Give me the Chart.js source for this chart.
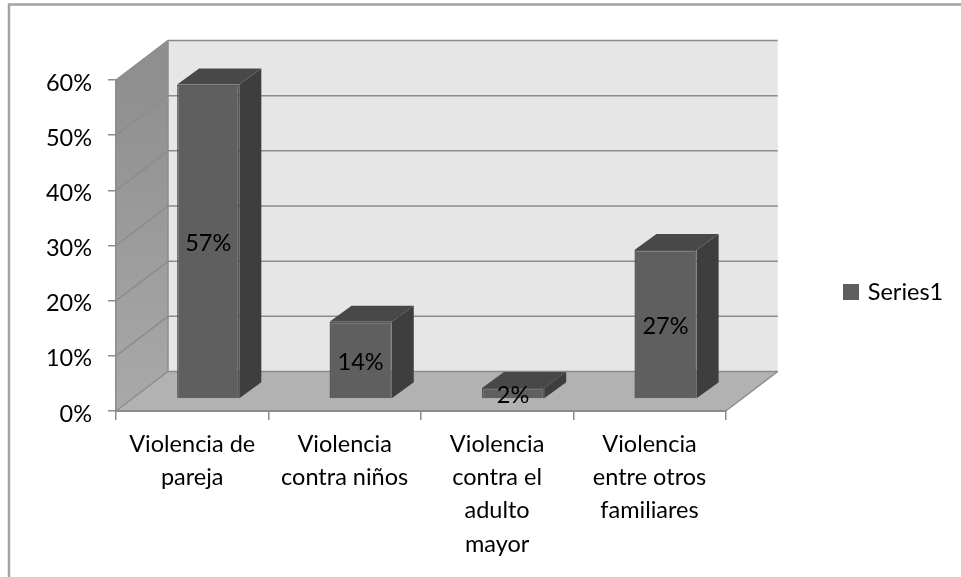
<!DOCTYPE html>
<html><head><meta charset="utf-8">
<style>html,body{margin:0;padding:0;background:#fff}canvas{display:block}</style>
<script src="https://cdn.jsdelivr.net/npm/chart.js@4"></script></head>
<body><canvas id="c" width="961" height="577"></canvas>
<script>
const categories = [["Violencia de","pareja"],["Violencia","contra niños"],["Violencia","contra el","adulto","mayor"],["Violencia","entre otros","familiares"]];
const seriesName = "Series1";
const values = [57,14,2,27];
const yMax = 60, yStep = 10;

const FONT = "Lato, Carlito, sans-serif";
const FS = 23.5;
const DEPTH = {x:52, y:-39.5};      // floor / wall depth
const SHIFT = {x:16, y:-12};        // bars sit inside the depth
const BAR_D = {x:22, y:-16};        // bar depth
const LINE = '#8c8c8c';

const scene3d = {
  id:'scene3d',
  afterLayout(chart){
    const l = chart.legend;
    const dx = 840 - l.left, dy = 292 - (l.top+l.bottom)/2;
    l.left+=dx; l.right+=dx; l.top+=dy; l.bottom+=dy;
    l.legendHitBoxes.forEach(b=>{b.left+=dx;b.top+=dy;});
  },
  beforeDraw(chart){
    const c = chart.ctx, a = chart.chartArea, y = chart.scales.y;
    const L=a.left,R=a.right,T=a.top,B=a.bottom,dx=DEPTH.x,dy=DEPTH.y;
    c.save();
    // outer frame
    c.strokeStyle='#a3a3a3'; c.lineWidth=2.5;
    c.beginPath(); c.moveTo(9,577); c.lineTo(9,4.5); c.lineTo(961,4.5); c.stroke();
    // back wall
    c.fillStyle='#e6e6e6'; c.fillRect(L+dx,T+dy,R-L,B-T);
    // floor
    c.fillStyle='#b2b2b2';
    c.beginPath(); c.moveTo(L,B); c.lineTo(L+dx,B+dy); c.lineTo(R+dx,B+dy); c.lineTo(R,B); c.closePath(); c.fill();
    // side wall
    const g=c.createLinearGradient(0,T,0,B);
    g.addColorStop(0,'#8f8f8f'); g.addColorStop(1,'#a9a9a9');
    c.fillStyle=g;
    c.beginPath(); c.moveTo(L,T); c.lineTo(L+dx,T+dy); c.lineTo(L+dx,B+dy); c.lineTo(L,B); c.closePath(); c.fill();
    // wall grid
    c.strokeStyle=LINE; c.lineWidth=1.5;
    y.ticks.forEach(t=>{
      const p=y.getPixelForValue(t.value);
      c.beginPath(); c.moveTo(L,p); c.lineTo(L+dx,p+dy); c.lineTo(R+dx,p+dy); c.stroke();
    });
    c.beginPath(); c.moveTo(L+dx,T+dy); c.lineTo(L+dx,B+dy); c.stroke();
    c.beginPath(); c.moveTo(R,B); c.lineTo(R+dx,B+dy); c.stroke();
    c.restore();
  },
  beforeDatasetsDraw(chart){
    const c = chart.ctx;
    c.save();
    c.translate(SHIFT.x,SHIFT.y);
    const dx=BAR_D.x,dy=BAR_D.y;
    chart.getDatasetMeta(0).data.forEach(b=>{
      const l=b.x-b.width/2,r=b.x+b.width/2,t=b.y,bo=b.base;
      c.fillStyle='#3e3e3e';
      c.beginPath(); c.moveTo(r,t); c.lineTo(r+dx,t+dy); c.lineTo(r+dx,bo+dy); c.lineTo(r,bo); c.closePath(); c.fill();
      c.fillStyle='#484848';
      c.beginPath(); c.moveTo(l,t); c.lineTo(l+dx,t+dy); c.lineTo(r+dx,t+dy); c.lineTo(r,t); c.closePath(); c.fill();
    });
  },
  afterDatasetsDraw(chart){
    const c = chart.ctx;
    c.restore();
    c.save();
    c.fillStyle='#000'; c.font=FS+'px '+FONT; c.textAlign='center'; c.textBaseline='middle';
    chart.getDatasetMeta(0).data.forEach((b,i)=>{
      c.fillText(values[i]+'%', b.x+SHIFT.x, (b.y+b.base)/2+SHIFT.y+2);
    });
    c.restore();
  }
};

new Chart(document.getElementById('c'),{
  type:'bar',
  data:{labels:categories,datasets:[{label:seriesName,data:values,backgroundColor:'#5f5f5f',borderColor:'#565656',borderWidth:1.5,categoryPercentage:0.408,barPercentage:1}]},
  options:{
    responsive:false,animation:false,
    layout:{padding:{left:0,right:122,top:80,bottom:0}},
    plugins:{
      tooltip:{enabled:false},
      legend:{position:'right',labels:{font:{family:FONT,size:FS},color:'#000',boxWidth:10,boxHeight:10,padding:6,
        generateLabels(c){
          const items=Chart.defaults.plugins.legend.labels.generateLabels(c);
          items.forEach(i=>{i.lineWidth=6;i.strokeStyle='#5f5f5f';});
          return items;
        }}}
    },
    scales:{
      x:{
        afterFit(s){s.height=166;},
        grid:{display:true,drawOnChartArea:false,color:LINE,tickLength:9,lineWidth:1.5},
        border:{color:LINE,width:2},
        ticks:{color:'#000',maxRotation:0,minRotation:0,autoSkip:false,padding:8,font:{family:FONT,size:FS,lineHeight:1.41}}
      },
      y:{
        min:0,max:yMax,
        afterFit(s){s.width=116;},
        grid:{display:true,drawOnChartArea:false,color:LINE,tickLength:8,lineWidth:1.5},
        border:{color:LINE,width:1.5},
        ticks:{color:'#000',stepSize:yStep,padding:16,labelOffset:3,callback:v=>v+'%',font:{family:FONT,size:FS}}
      }
    }
  },
  plugins:[scene3d]
});
</script></body></html>
